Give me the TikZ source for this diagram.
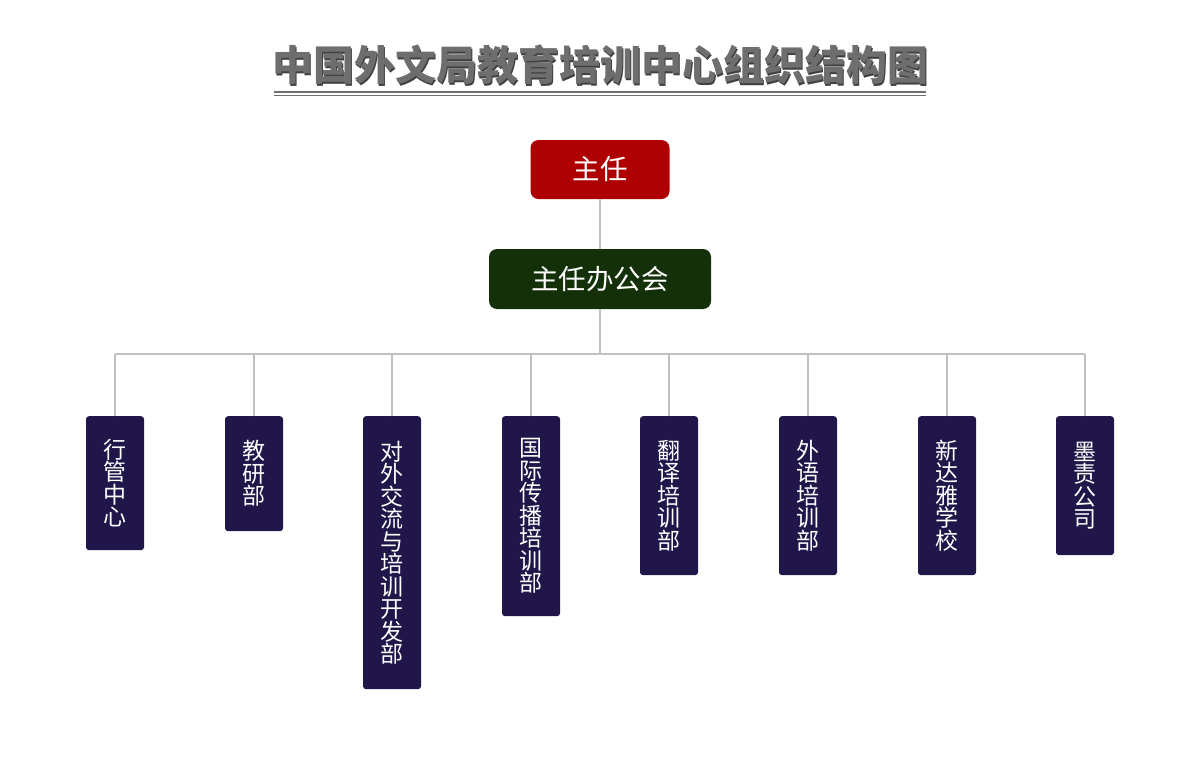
\documentclass[tikz,border=0pt]{standalone}
\usepackage{fontspec}
\setmainfont{Noto Sans CJK SC}
\usetikzlibrary{calc}
\definecolor{zrred}{HTML}{AE0000}
\definecolor{bggreen}{HTML}{133009}
\definecolor{bmnavy}{HTML}{20164A}
\definecolor{lngray}{HTML}{C0C0C0}
\definecolor{ttgray}{HTML}{6E6E6E}

\begin{document}
\begin{tikzpicture}[x=1pt,y=-1pt,
    topbox/.style={rounded corners=8pt,text=white,minimum height=59pt,
        font=\fontsize{27.5}{30}\selectfont},
    deptbox/.style={fill=bmnavy,rounded corners=3pt,text=white,anchor=north,
        minimum width=58pt,inner sep=0pt,align=center,
        font=\fontsize{23}{22.5}\selectfont},
    link/.style={draw=lngray,line width=2pt}]
    \useasboundingbox (0,0) rectangle (1200,756);
    % title
    \node[text=black!75,font=\fontsize{41}{44}\bfseries,inner xsep=0pt] (titleshadow) at (601.5,66.5) {中国外文局教育培训中心组织结构图};
    \node[text=ttgray,font=\fontsize{41}{44}\bfseries,inner xsep=0pt] (title) at (600,65) {中国外文局教育培训中心组织结构图};
    \draw[ttgray,line width=1.3pt] (274,92) -- (926,92);
    \draw[ttgray,line width=1.3pt] (274,95.5) -- (926,95.5);
    % top
    \node[topbox,fill=zrred,minimum width=139pt] (zr) at (600,169.5) {主任};
    \node[topbox,fill=bggreen,minimum width=222pt,minimum height=60pt] (bgh) at (600,279) {主任办公会};
    \coordinate (bus) at (600,354);
    \draw[link] (zr) -- (bgh);
    \draw[link] (bgh) -- (bus);
    % departments
    \foreach \x/\h/\t [count=\i] in {115/134/{行\\管\\中\\心},254/115/{教\\研\\部},
        392/273/{对\\外\\交\\流\\与\\培\\训\\开\\发\\部},531/200/{国\\际\\传\\播\\培\\训\\部},
        669/159/{翻\\译\\培\\训\\部},808/159/{外\\语\\培\\训\\部},
        947/159/{新\\达\\雅\\学\\校},1085/139/{墨\\责\\公\\司}}
    {
        \node[deptbox,minimum height=\h pt] (d\i) at (\x,416) {\t};
        \draw[link] (d\i.north) -- (d\i.north |- bus);
    }
    \draw[link] (d1.north |- bus) -- (d8.north |- bus);
\end{tikzpicture}
\end{document}
